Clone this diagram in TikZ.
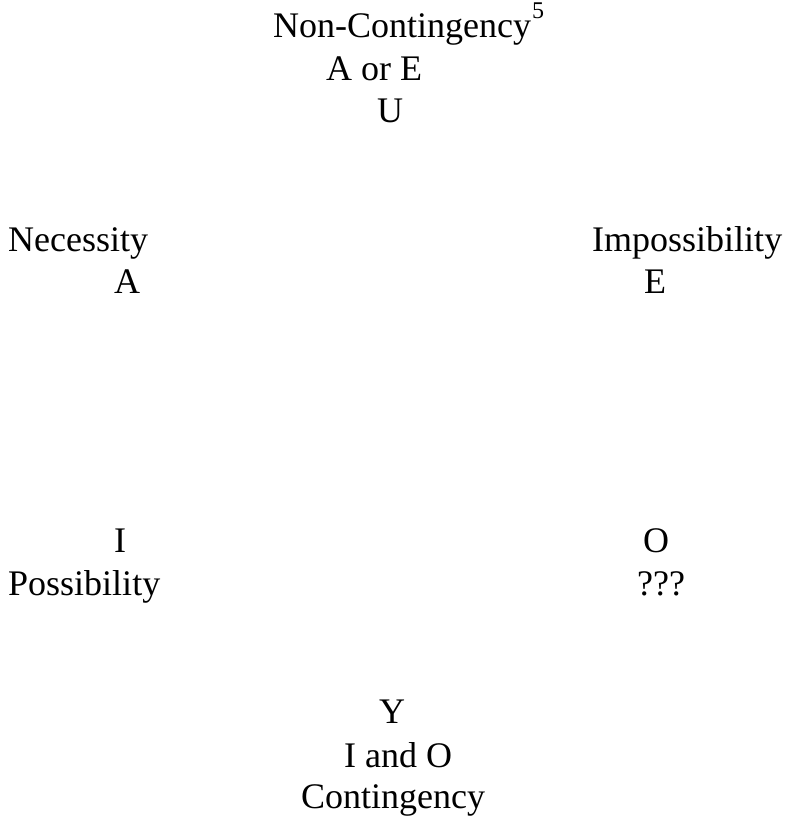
\documentclass[tikz,border=0pt]{standalone}
\usepackage{fontspec}
\setmainfont{Liberation Serif}
\usepackage{tikz}
\usetikzlibrary{positioning}

\tikzset{
  word/.style={anchor=base west, inner sep=0pt, font=\fontsize{36}{43}\selectfont},
}
\newcommand{\notemark}[1]{\kern1pt\raisebox{19pt}{\fontsize{24}{24}\selectfont #1}}

\begin{document}
\begin{tikzpicture}[x=1pt,y=-1pt]
  \useasboundingbox (0,0) rectangle (787,819);
  % top corner
  \node[word] (nc) at (273,37) {Non-Contingency\notemark{5}};
  \node[word] (aore) at (326,80) {A or E};
  \node[word] (u) at (377,122) {U};
  % upper pair
  \node[word] (nec) at (8,251) {Necessity};
  \node[word] (a) at (114,293) {A};
  \node[word] (imp) at (592,251) {Impossibility};
  \node[word] (e) at (644,293) {E};
  % lower pair
  \node[word] (i) at (114,552) {I};
  \node[word] (poss) at (8,595) {Possibility};
  \node[word] (o) at (643,552) {O};
  \node[word] (qqq) at (637,595) {???};
  % bottom corner
  \node[word] (y) at (379,723) {Y};
  \node[word] (iando) at (344,767) {I and O};
  \node[word] (cont) at (301,808) {Contingency};
\end{tikzpicture}
\end{document}
